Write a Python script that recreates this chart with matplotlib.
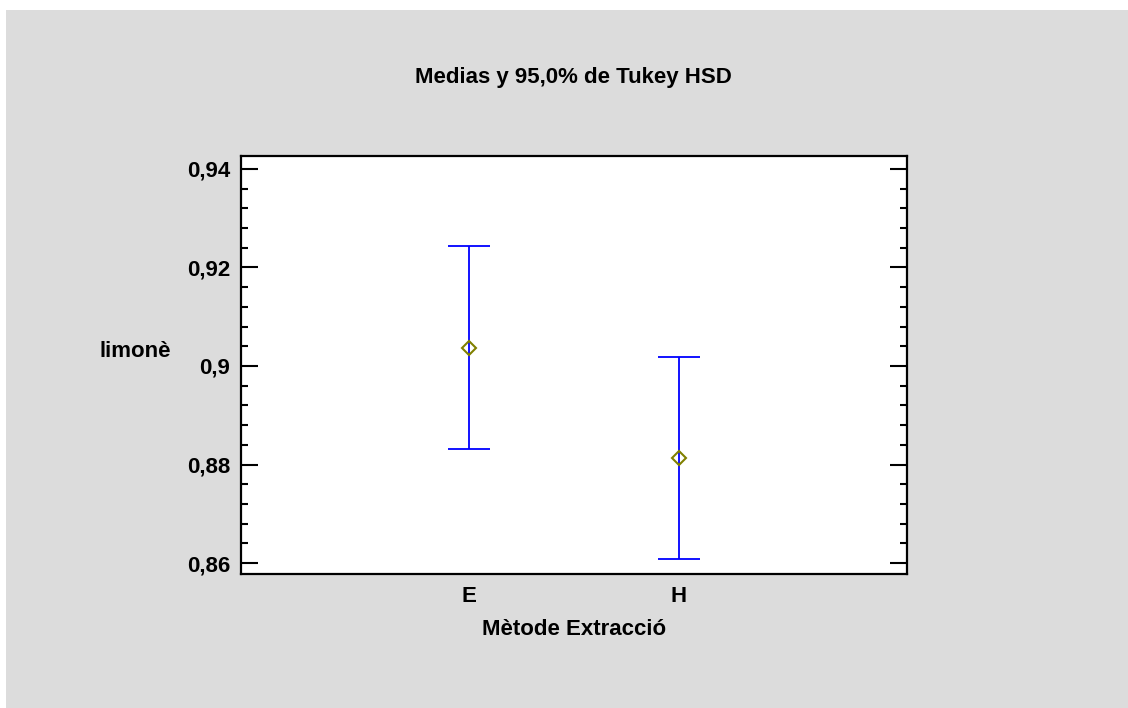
import matplotlib.pyplot as plt
from matplotlib.ticker import MultipleLocator, FuncFormatter

metodos = ['E', 'H']
medias = [0.9037, 0.8814]
limite_inf = [0.8831, 0.8608]
limite_sup = [0.9244, 0.9019]

plt.rcParams['font.family'] = ['Liberation Sans', 'DejaVu Sans']
plt.rcParams['font.weight'] = 'bold'
fs = 16

fig = plt.figure(figsize=(11.28, 7.08), dpi=100, facecolor='white')
# panel gris con borde blanco arriba e izquierda
fig.patches.append(plt.Rectangle((6 / 1128, 0), 1, 1 - 10 / 708, transform=fig.transFigure,
                                 facecolor='#dcdcdc', edgecolor='none', zorder=-1))

ax = fig.add_axes([241 / 1128, 1 - 574 / 708, 666 / 1128, 418 / 708])
ax.set_facecolor('white')

x = list(range(len(metodos)))
err_inf = [m - l for m, l in zip(medias, limite_inf)]
err_sup = [u - m for m, u in zip(medias, limite_sup)]
ax.errorbar(x, medias, yerr=[err_inf, err_sup], fmt='none', ecolor='#0000ff',
            elinewidth=1.3, capsize=15, capthick=1.3)
ax.plot(x, medias, 'D', ms=7, mfc='none', mec='#808000', mew=1.5)

ax.set_xlim(-1.086, 2.086)
ax.set_ylim(0.8578, 0.9426)
ax.set_xticks(x)
ax.set_xticklabels(metodos)
ax.yaxis.set_major_locator(MultipleLocator(0.02))
ax.yaxis.set_minor_locator(MultipleLocator(0.004))
ax.yaxis.set_major_formatter(FuncFormatter(lambda v, p: ('%g' % round(v, 3)).replace('.', ',')))
ax.tick_params(axis='y', which='both', direction='in', left=True, right=True, width=1.5)
ax.tick_params(axis='y', which='major', length=12, labelsize=fs, pad=8)
ax.tick_params(axis='y', which='minor', length=5)
ax.tick_params(axis='x', length=0, labelsize=fs, pad=9)
for s in ax.spines.values():
    s.set_linewidth(1.6)

fig.text(573 / 1128, 1 - 83 / 708, 'Medias y 95,0% de Tukey HSD', ha='center', va='baseline',
         fontsize=fs, fontweight='bold')
fig.text(135 / 1128, 1 - 357 / 708, 'limonè', ha='center', va='baseline',
         fontsize=fs, fontweight='bold')
fig.text(574 / 1128, 1 - 635 / 708, 'Mètode Extracció', ha='center', va='baseline',
         fontsize=fs, fontweight='bold')

fig.savefig('out.png', dpi=100, facecolor=fig.get_facecolor())
